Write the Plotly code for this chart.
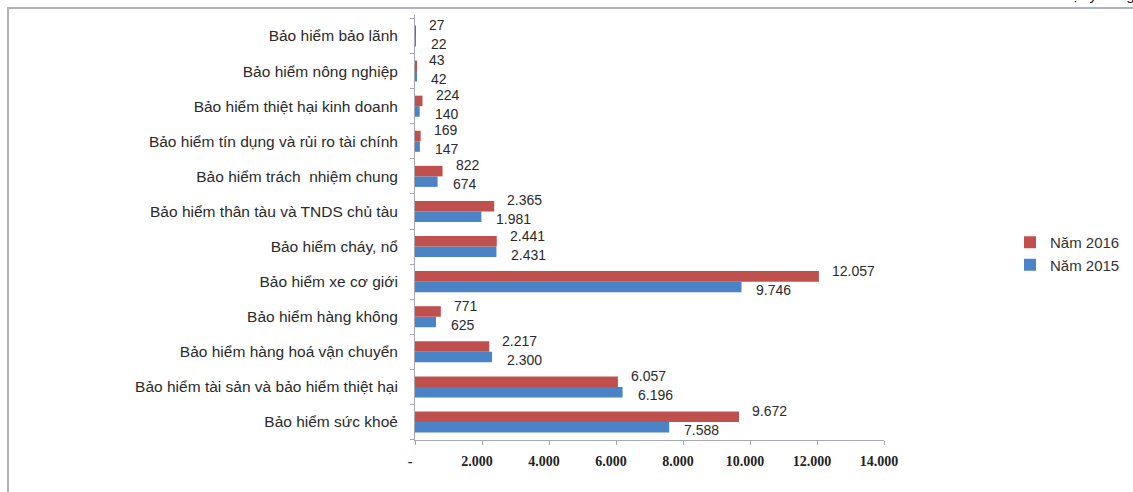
import plotly.graph_objects as go

# Categories listed bottom-to-top (first category sits at the bottom of the axis)
categories = [
    "Bảo hiểm sức khoẻ",
    "Bảo hiểm tài sản và bảo hiểm thiệt hại",
    "Bảo hiểm hàng hoá vận chuyển",
    "Bảo hiểm hàng không",
    "Bảo hiểm xe cơ giới",
    "Bảo hiểm cháy, nổ",
    "Bảo hiểm thân tàu và TNDS chủ tàu",
    "Bảo hiểm trách  nhiệm chung",
    "Bảo hiểm tín dụng và rủi ro tài chính",
    "Bảo hiểm thiệt hại kinh doanh",
    "Bảo hiểm nông nghiệp",
    "Bảo hiểm bảo lãnh",
]
nam_2015 = [7588, 6196, 2300, 625, 9746, 2431, 1981, 674, 147, 140, 42, 22]
nam_2016 = [9672, 6057, 2217, 771, 12057, 2441, 2365, 822, 169, 224, 43, 27]

tick_values = [0, 2000, 4000, 6000, 8000, 10000, 12000, 14000]
tick_labels = ["-", "2.000", "4.000", "6.000", "8.000", "10.000", "12.000", "14.000"]

RED = "#C0504D"
BLUE = "#4A84C6"
W, H = 1133, 492
L, R, T, B = 415, 249, 15, 52
PW, PH = W - L - R, H - T - B


def fmt(v):
    return f"{v:,}".replace(",", ".")


fig = go.Figure()
fig.add_trace(go.Bar(
    y=categories, x=nam_2015, orientation="h", name="Năm 2015",
    marker=dict(color=BLUE, line=dict(width=0)), legendgroup="a",
))
fig.add_trace(go.Bar(
    y=categories, x=nam_2016, orientation="h", name="Năm 2016",
    marker=dict(color=RED, line=dict(width=0)), legendgroup="b",
))

label_font = dict(family="Liberation Sans, Arial, sans-serif", size=14, color="#2a2a2a")
annotations = []
for cat, v15, v16 in zip(categories, nam_2015, nam_2016):
    annotations.append(dict(x=v16, y=cat, text=fmt(v16), showarrow=False,
                            xanchor="left", yanchor="middle", xshift=11, yshift=11,
                            font=label_font))
    annotations.append(dict(x=v15, y=cat, text=fmt(v15), showarrow=False,
                            xanchor="left", yanchor="middle", xshift=13, yshift=-8,
                            font=label_font))

# unit note along the top edge
annotations.append(dict(
    xref="paper", yref="paper", x=(1137 - L) / PW, y=1 + (T - 5) / PH,
    xanchor="right", yanchor="bottom", showarrow=False,
    text="Đơn vị: tỷ đồng", font=dict(family="Liberation Sans, Arial", size=15, color="#222"),
))

# outer frame
shapes = [dict(
    type="rect", xref="paper", yref="paper",
    x0=(8 - L) / PW, x1=(1145 - L) / PW,
    y0=-(H + 10 - T - PH) / PH, y1=1 + (T - 8) / PH,
    line=dict(color="#B2B2BA", width=2), fillcolor="rgba(0,0,0,0)", layer="below",
)]

fig.update_layout(
    width=W, height=H,
    margin=dict(l=L, r=R, t=T, b=B, pad=0, autoexpand=False),
    paper_bgcolor="white", plot_bgcolor="white",
    barmode="group", bargap=0.4, bargroupgap=0,
    showlegend=True,
    legend=dict(
        xref="container", yref="container",
        x=1010 / W, y=1 - 226 / H, xanchor="left", yanchor="top",
        traceorder="reversed", tracegroupgap=7,
        font=dict(family="Liberation Sans, Arial, sans-serif", size=15, color="#333"),
        itemwidth=30, bgcolor="rgba(0,0,0,0)",
    ),
    xaxis=dict(
        range=[0, 14000], tickvals=tick_values, ticktext=tick_labels,
        showgrid=False, zeroline=False,
        showline=True, linecolor="#A8A8B0", linewidth=1,
        ticks="outside", ticklen=4, tickcolor="#A8A8B0",
        ticklabelstandoff=4, ticklabelshift=-5,
        tickfont=dict(family="Liberation Serif, Times New Roman, serif", size=14, color="#222", weight="bold"),
        fixedrange=True,
    ),
    yaxis=dict(
        type="category", categoryorder="array", categoryarray=categories,
        showgrid=False, zeroline=False,
        showline=True, linecolor="#A8A8B0", linewidth=1,
        ticks="outside", ticklen=4, tickcolor="#A8A8B0", tickson="boundaries",
        ticklabelstandoff=13,
        tickfont=dict(family="Liberation Sans, Arial, sans-serif", size=15.5, color="#2a2a2a"),
        fixedrange=True,
    ),
    annotations=annotations,
    shapes=shapes,
)

fig.write_html("out.html")
